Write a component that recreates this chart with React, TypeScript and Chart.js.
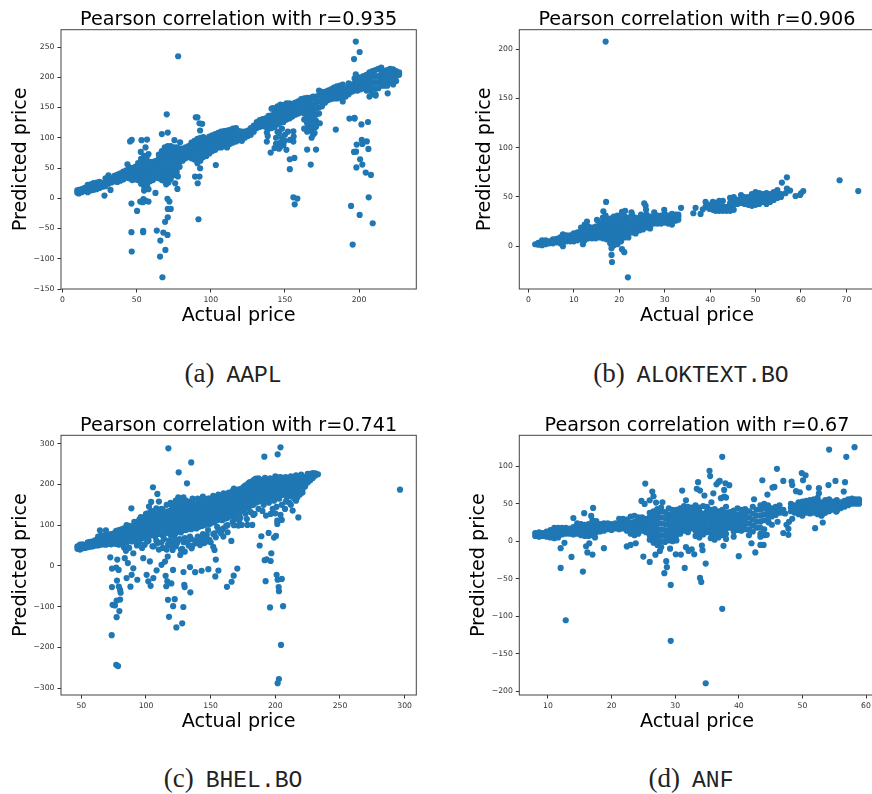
import React, { useEffect, useRef } from "react";
import { Chart, registerables } from "chart.js";

Chart.register(...registerables);

// Each band row is [actual, predicted, predicted, ...]: values.
const aaplBand = [[10,9,13],[11,8,12,14],[13,10,15],[15,12,17],[17,10,16,22],[19,13,19,23],[21,14,20,25],[23,15,21,26],[25,17,23,27],[27,19,25],[29,20,27,33],[31,24,30,38],[33,26,33],[35,28,34,37],[37,27,33,39],[39,29,35,41],[41,31,37,44],[43,34,40,46],[45,33,40,46,51],[47,30,37,44,50],[49,31,38,45,52],[51,30,37,44,51,58],[53,24,31,38,45,52,59,65],[55,20,27,34,41,48,55,62,70],[57,22,30,38,46,54,62,70],[59,28,36,44,52,60],[61,30,38,46,54,60],[63,34,41,48,55,62],[65,33,41,49,57,65,72],[67,30,38,46,54,62,70,78],[69,28,36,44,52,60,68,76,84],[71,30,38,46,54,62,70,78,86],[73,32,40,48,56,64,72,80,86],[75,38,46,54,62,70,78,84],[77,44,52,60,68,76,84],[79,52,60,68,76,82],[81,62,69,76,82],[83,66,72,78,84],[85,68,74,80,86],[87,66,72,78,84,92],[89,64,70,76,82,88,95],[91,58,66,74,82,90,98],[93,62,70,78,86,94,100],[95,68,75,82,89,96,101],[97,70,77,84,91,98],[99,74,81,88,95,102],[101,78,85,92,99,104],[103,80,87,94,101,106],[105,84,91,98,105,108],[107,84,90,96,102,110],[109,86,92,98,104,111],[111,84,91,98,105,112],[113,90,96,102,108,113],[115,92,98,104,110,115],[117,94,100,106,112,116],[119,96,101,106,111],[121,95,100,105,110],[123,100,105,110],[125,103,107,112],[127,105,110,116],[129,110,115,120],[131,116,121,126],[133,118,124,129],[135,119,125,131],[137,118,125,132],[139,115,122,129,136],[141,116,123,130,137,148],[143,118,125,132,139,146],[145,122,129,136,143,152],[147,125,132,139,146,155],[149,126,133,140,147,154],[151,130,137,144,151,157],[153,132,139,146,153,157],[155,135,142,149,156],[157,138,145,152,158],[159,140,147,154,160],[161,142,149,156,164],[163,130,140,148,156,165],[165,115,124,133,142,151,160,166],[167,112,121,130,139,148,157,166],[169,105,115,125,135,145,155,165,168],[171,118,128,138,148,158,168],[173,140,150,160,170,178],[175,152,160,168,176],[177,158,165,172,176],[179,162,168,174,178],[181,164,170,176,180],[183,165,171,177,183],[185,165,172,179,185],[187,166,173,180,186],[189,160,168,176,184,188],[191,168,174,180],[193,172,178,184,190],[195,176,182,188],[197,178,184,190,198],[199,178,185,192,200],[201,180,187,194,200],[203,182,189,196,202],[205,178,185,192,199,204],[207,168,178,186,194,202,208],[209,172,182,192,202,210],[211,172,182,192,202,212],[213,182,192,202,214],[215,186,194,202,210,216],[217,186,194,202,210],[219,186,194,202,212],[221,192,200,208,214],[223,188,196,204,213],[225,194,202,210],[227,204,208]];
const aaplOutliers = [[78,234.7],[197.8,259],[200.4,241.7],[196.6,230],[197.8,205],[70.3,138.8],[89.9,133.8],[91,133.8],[92.4,124],[94.2,123],[92.8,112],[71,108.5],[67,106],[46.7,96.4],[45.6,94],[53.3,96],[57,97],[75.5,96],[79.3,92.5],[56,84],[52.8,76.5],[58,73],[43.8,56],[103.4,55],[193.5,131.7],[196.9,133],[197,131.7],[201.6,122],[206,126],[184.3,113.5],[173.5,124],[155.7,110.7],[155.9,102],[153.5,96.4],[155.7,93.6],[153.3,64.5],[156.4,66.7],[153.3,48],[165,80.4],[171,80.4],[167.4,55.6],[140.4,75.5],[137.8,108.5],[138.4,103],[137.8,93.6],[155.7,1.6],[158.4,-0.5],[156.6,-10],[201.8,96.4],[202.2,89.8],[205.2,94],[198.4,88.7],[196.6,76.6],[198,77],[206.3,81.5],[200.7,64.5],[202.2,55.6],[198.2,51],[204.5,42.4],[208,38.6],[206.5,1.6],[194.6,-12.7],[200.4,-27.5],[209.2,-41.3],[195.7,-76.6],[219.3,173.5],[211.2,169.7],[46.5,-8.8],[52.4,-5.5],[54.6,-1.6],[56.2,-4.4],[58,-5.5],[54.2,-6.6],[50.3,-21],[46.5,-56],[54.4,-54],[54.4,-56],[46.7,-88],[63.6,-53.4],[66,-70],[68,-56.7],[70.8,-60.6],[69.4,-85.4],[65.8,-96.4],[67.4,-130.6],[69.2,-39],[71,-31.4],[70.8,-1],[72.1,-5.5],[71,-17.6],[73,-17.6],[91.7,-34.7],[62.7,8.8],[55,12.7],[58,15],[77.5,15.4],[69.9,23],[71.5,26],[76,24.8],[77.8,36],[89.4,35.8],[92.4,35.8],[91.2,24.8],[92.8,49.6],[28.3,4.4],[32.4,13.8],[146,108],[148,100],[150,105],[144,90],[147,85],[150,95],[143,83],[152,110],[148,115],[145,110],[149,88],[146,82],[151,80],[144,100],[147,92],[142,149],[165,110],[170,108],[168,100],[163,115],[170,120]];

const alokBand = [[1.5,2],[2.2,1.5,3.5],[3,1,3,6],[3.8,2,4,6],[4.6,3,5],[5.4,3,5,7],[6.2,4,6,7.5],[7,3,6,9],[7.6,0,4,8,12],[8.4,5,8,11],[9.2,5,8,11],[10,5,9,13],[10.8,6,10,14],[11.6,7,11,15,19],[12.4,6,10,14,18,22],[13.2,8,12,16,20],[14,8,12,16,19],[14.8,8,12,16,20],[15.6,9,13,17,21,24],[16.4,8,12,16,20,24,29],[17.2,7,11,15,19,23,27],[18,3,7,11,15,19,23,28],[18.8,1,5,9,13,17,21,25,30],[19.6,2,6,10,14,18,22,26,31],[20.4,5,9,13,17,21,25,29],[21.2,9,13,17,21,25,30],[22,9,13,17,21,25,29],[22.8,14,18,22,26,32],[23.6,13,17,21,25,29],[24.4,16,20,24,28],[25.2,17,21,25,29],[26,19,23,27,32],[26.8,18,22,26,30],[27.6,23,26,30],[28.4,23,27,31],[29.2,23,27,31],[30,24,28,33],[30.8,23,27,31],[31.6,22,26,30,33],[32.4,26,29,32],[33,27,30,32],[39,40,45],[39.8,38,42],[40.6,37,41,45],[41.2,36,40,44],[42,36,40,46],[42.8,36,40,46],[43.6,36,40],[44.4,36,40,44,49],[45.2,37,42,46,50],[46,43,47],[46.8,44,48,52],[47.6,43,47,50],[48.4,42,46,50],[49.2,41,45,49,53],[50,42,46,50,55],[50.8,43,47,51,54],[51.6,45,49,53],[52.4,43,47,51,54],[53.2,45,49,53],[54,47,51,55],[54.8,49,52,57],[55.6,50,53]];
const alokOutliers = [[17,207.7],[56.9,70],[55.8,64.6],[68.5,67],[72.6,56],[60.5,56],[60,53.8],[58.8,51],[59.8,52],[56.9,58.5],[57.6,56.5],[56.6,53.8],[17.1,45],[25.5,43.6],[25.8,41],[25.9,37],[24.8,32],[16.5,35.5],[17,31],[20.6,34.8],[21.3,36],[22.7,34.5],[12.9,25],[15.1,26.7],[33.6,39],[29.9,37],[27.7,34.5],[36.3,33.5],[36.8,39],[37.9,32.8],[38.4,37.5],[18.3,-2],[18.3,-8.8],[18.4,-16],[21.9,-31.5],[20.6,-3],[21.1,-6],[12,2]];

const bhelBand = [[47,42,48],[49,40,46,52],[51,43,49,53],[53,44,50],[55,46,52,58],[57,47,53,59],[59,48,54,60],[61,50,56,63],[63,50,57,64,72],[65,52,59,66,74],[67,53,60,67,75],[69,52,60,68,76],[71,54,62,70,77],[73,53,61,69,78],[75,55,63,71,80],[77,54,62,70,78,86],[79,52,61,70,79,88],[81,55,64,73,82,90],[83,45,60,69,78,87,92],[85,57,66,75,84,93,100],[87,44,62,72,82,92,98],[89,60,70,80,90,96],[91,62,72,82,92,102,108],[93,50,68,78,88,98,108],[95,66,76,86,96,106,114],[97,44,68,78,88,98,108,118],[99,70,80,90,100,110,120],[101,60,72,82,92,102,112,122],[103,74,84,94,104,114,126],[105,48,76,86,96,106,116,127],[107,72,82,92,102,112,122],[109,56,78,88,98,108,118,130],[111,78,88,98,108,118,128],[113,44,74,84,94,104,114,124,132],[115,80,90,100,110,120,130],[117,52,82,92,102,112,122,134],[119,76,86,96,106,116,126,136,155],[121,60,84,94,104,114,124,134],[123,48,80,90,100,110,120,130,140,160],[125,86,96,106,116,126,136,146,168],[127,40,82,92,102,112,122,132,142],[129,58,88,98,108,118,128,138,148,168],[131,88,98,108,118,128,138,148],[133,50,92,102,112,122,132,142,152],[135,66,90,100,110,120,130,140,150,158],[137,94,104,114,124,134,144,152],[139,56,92,102,112,122,132,142,150],[141,96,106,116,126,136,146,158],[143,66,98,108,118,128,138,148,158],[145,56,100,110,120,130,140,150,162],[147,76,104,114,124,134,144,154,162],[149,64,102,112,122,132,142,152,165],[151,106,116,126,136,146,156,166],[153,80,108,118,128,138,148,158,165],[155,96,112,122,132,142,152,162,170],[157,114,124,134,144,154,164,168],[159,90,112,122,132,142,152,162,172],[161,116,126,136,146,156,166,172],[163,100,118,128,138,148,158,168,176],[165,122,132,142,152,162,172,178],[167,108,124,134,144,154,164,174,184],[169,116,128,138,148,158,168,178,182],[171,130,140,150,160,170,180,186],[173,118,132,142,152,162,172,182,188],[175,136,146,156,166,176,186,192],[177,128,140,150,160,170,180,190,198],[179,144,154,164,174,184,194,202],[181,132,148,158,168,178,188,198,206],[183,125,150,160,170,180,190,200,210],[185,155,165,175,185,195,205,214],[187,140,158,168,178,188,198,208,215],[189,160,170,180,190,200,210],[191,150,162,172,182,192,202,208],[193,165,175,185,195,205],[195,155,168,178,188,198,206],[197,170,180,190,200,208],[199,160,172,182,192,202,212],[201,145,172,182,192,202,212,218],[203,165,175,185,195,205,216],[205,150,174,184,194,204,214],[207,175,185,195,205,215],[209,168,178,188,198,208,214],[211,155,178,188,199,210],[213,170,180,190,200,212],[215,165,176,187,198,208],[217,168,178,188,198,210],[219,175,185,195,205,220],[221,180,188,196,204,212],[223,195,203,211,218],[225,205,213,220,226],[227,210,218,226],[229,216,224,228],[231,222,227],[233,225]];
const bhelOutliers = [[117.3,288.6],[204,291],[201.8,273.9],[191.5,268],[135,254],[125.3,229.7],[131.7,202.7],[105.4,193],[108.8,176.6],[296.4,187],[88.7,141.4],[104,157],[110,157.8],[102.3,145.5],[108,141.4],[112.9,139],[101.3,129],[106.4,125],[64.4,87.5],[69,87.5],[72.4,21],[73.7,-6.5],[77,-4],[78.9,-10],[77.8,15.5],[77.6,-36],[73.7,-52],[79,-50.7],[80,-59],[80.4,-66],[80,-82.6],[77.3,-85],[74.2,-95.6],[76,-97],[79.4,-111],[77.3,-126],[73.5,-170],[77,-243],[78.4,-246],[117,-83.4],[122.2,-81.7],[121,-99],[117.8,-125],[128.9,-101],[123.5,-151],[128,-141],[134.3,-65],[129.6,-46.6],[129.9,-52],[115.7,-50],[116.5,-38],[119.6,-43],[115.2,-24.5],[120.9,-10],[129,-15],[134,-3],[138,-15.5],[143,-12],[148.2,-8],[153.6,-26],[154,15.5],[156,-11.4],[162.6,-51.5],[166.2,-39],[167.8,-24],[170.6,-6.5],[192.5,-37.6],[201,-22],[201.8,-34],[205,-32],[202.6,-52],[202.8,-62],[195.9,-102],[206,-99],[204.4,-194],[202.8,-278],[201.8,-288],[196.4,12],[191.8,14],[193.3,16],[196.9,31],[187.9,50],[189.2,72.8],[194.8,81],[199,69.5],[200.5,73.6],[166,61.3],[159.8,72],[163.1,82.6],[217.8,119],[213.4,135.7],[207.5,139.8],[205,112.8],[201.5,103],[201.5,111],[192.8,123.4],[196.4,127.5],[200,129],[204,125],[171.4,99],[174,100.5],[178.4,100.5],[182.2,100.5],[85,-30],[88.9,-22],[93.3,-34],[88,-51],[90.2,-6],[86,7],[83.6,19],[90.2,31],[84.5,37],[100.5,-22],[101.8,-38],[103.6,-49],[105.7,-30],[97.9,19],[103,11],[108.2,-11],[112,2.5],[114.7,10.6],[116.8,23],[120.6,39],[126.5,27],[130,35],[135.3,43],[141.8,51],[147,60],[152,47],[153,39]];
const bhelBelowBand = [[95,58],[99,52],[102,62],[106,48],[108,62],[110,40],[112,58],[114,66],[116,40],[118,62],[120,48],[122,68],[124,56],[126,66],[128,42],[130,68],[132,58],[134,72],[136,50],[138,62],[140,72],[142,60],[144,78],[146,68],[148,88],[150,58],[152,78],[154,70],[156,88],[158,80],[160,92],[162,98],[168,100],[172,112],[178,115],[184,128],[190,135],[198,140],[208,158],[212,150],[216,160]];
const bhelAboveBand = [[96,120],[100,128],[104,135],[108,134],[112,140],[116,150],[120,148],[124,152],[127,158],[129,155],[131,160],[136,165],[140,165],[144,170],[148,165],[152,172],[156,175],[160,178],[164,180],[168,190],[172,188],[176,195],[180,205],[184,212],[188,212],[192,216],[196,215],[200,220],[204,218],[208,218],[212,220],[216,222],[220,224]];

const anfBand = [[8,7,11],[8.6,6,10,12],[9.2,7,11],[9.8,6,10,13],[10.4,5,10,15],[11,4,9,14,18],[11.6,5,10,15,18],[12.2,9,13,18],[12.8,10,14,18],[13.4,10,14,17],[14,9,14,19],[14.6,10,15,20,24],[15.2,8,13,18,23],[15.8,7,12,17,22],[16.4,7,12,17,23],[17,8,13,18,24,28],[17.6,12,17,22,27],[18.2,13,18,23],[18.8,14,19,24],[19.4,16,20,24],[20,15,19,23],[20.6,17,20,24],[21.2,16,20,24,30],[21.8,17,21,25,30],[22.4,14,19,24,29],[23,10,15,20,25,33],[23.6,8,14,20,26,34],[24.2,10,16,22,28,32],[24.8,14,20,26,32],[25.4,12,18,24,30],[26,2,8,14,20,26,32,38],[26.6,-2,5,12,19,26,33,40],[27.2,-5,2,9,16,23,30,37,43],[27.8,-8,0,8,16,24,32,40,45],[28.4,-1,7,15,23,31,39],[29,1,8,15,22,29,36,44],[29.6,0,7,14,21,28,35,42],[30.2,1,8,15,22,29,36,42],[30.8,10,17,24,31,38,44],[31.4,14,21,28,35,42,47],[32,12,19,26,33,40,46],[32.6,17,24,31,38,45],[33.2,7,14,21,28,35,42,48],[33.8,5,12,19,26,33,40,45],[34.4,9,16,23,30,37,47],[35,12,19,26,33,40,46],[35.6,4,11,18,25,32,39,42],[36.2,2,9,16,23,30,37,43],[36.8,5,12,19,26,33,40],[37.4,8,15,22,29,36,42],[38,3,10,17,24,31,38,46],[38.6,18,25,32,39],[39.2,6,13,20,27,34,41],[39.8,15,22,29,36,44],[40.4,14,21,28,35,42],[41,16,23,30,37,43],[41.6,8,16,24,32,40],[42.2,13,21,29,37,46],[42.8,18,26,34,42],[43.4,10,18,26,34,42,48],[44,8,16,28,36,44,50],[44.6,27,34,41,48],[45.2,33,38,44],[45.8,35,40,46],[46.4,38,42,48],[47,38,42],[48.2,40,45,50],[48.8,38,44,48],[49.4,36,42,47,52],[50,34,41,47,53],[50.6,38,44,50,54],[51.2,37,43,49,55],[51.8,38,44,50,56],[52.4,36,42,48,54,58],[53,34,40,46,52],[53.6,38,44,50,55],[54.2,40,46,52,56],[54.8,42,47,53],[55.4,40,45,50,55],[56,44,48,52],[56.6,46,50,54],[57.2,48,52,56],[57.8,50,54,57],[58.4,50,53,56],[58.9,50,54,56]];
const anfOutliers = [[58.2,125.5],[54.2,122.4],[56.9,112.6],[37.4,112.6],[46,96.6],[35.4,94],[35.5,87],[49.9,91],[50.5,88],[50.1,81.4],[43.7,81.4],[47,80.5],[48.3,79.7],[48.4,75],[55.2,80.5],[56.7,78.8],[54.1,75],[51,71.6],[45.3,71.6],[45.6,72.5],[49,66.8],[49.6,65.4],[52.6,70.8],[52.6,64],[56.5,66.3],[44.5,62.3],[33.6,78.8],[33.4,70],[33.9,67.6],[34.6,61],[36.8,78.8],[37,80.5],[36.5,76],[37.9,77.4],[38.5,74.8],[36,64],[37.7,68.5],[38,58.3],[37.2,57.4],[37.7,59.6],[35.7,52],[31.1,67.6],[25.3,77],[26.4,66.3],[26.6,60],[24.7,53.8],[25.2,49.8],[26,54.7],[27,51.6],[28,52],[31.7,54.7],[42.4,56],[17.1,44.5],[15.7,37.4],[16.8,33.8],[14,31],[12,-9.3],[12.6,-2.2],[12,-35.6],[13.7,-21],[15.5,-40.5],[12.8,-105.5],[16.2,-15],[17,-17.8],[16,-6.7],[16.5,-2.7],[17.4,5],[18.8,-9.3],[22.4,-7],[23,-5],[23.8,-2.7],[25,-20.5],[26,-27.6],[26.9,-18],[27.6,-13],[28.6,-26.7],[28.7,-34.7],[28.3,-42.7],[29.3,-58.3],[29.3,-133],[34.8,-189.6],[37.4,-90.3],[31.5,-35.6],[30.1,-17.4],[30.9,-17.8],[29.2,-10],[31.7,-8],[32.1,-13],[32.6,-10.7],[33,-17.4],[34.8,-29.8],[33.9,-49],[34.1,-54.3],[34.3,-12],[34.2,-5.8],[37.6,-6.2],[40,-20],[42.6,-15],[42,-2.7],[46.1,26],[47.3,37],[47,11],[47.9,26],[47.5,22],[47.8,16.5],[47.8,8.5],[48.4,30],[52,17.4],[53.2,25],[53.2,36.5],[55.3,39.6],[43.4,6],[43.9,-5],[43.4,-5],[44.4,8.5],[45.2,22],[44.7,25]];

const titles = ["Pearson correlation with r=0.935", "Pearson correlation with r=0.906", "Pearson correlation with r=0.741", "Pearson correlation with r=0.67"];
const captionLetters = ["(a)", "(b)", "(c)", "(d)"];
const captionNames = ["AAPL", "ALOKTEXT.BO", "BHEL.BO", "ANF"];
const xLabel = "Actual price";
const yLabel = "Predicted price";

const BLUE = "#1f77b4";
const INK = "#333333";
const SANS = "'DejaVu Sans', sans-serif";

type Layout = {
  points: number[][][];
  left: number; top: number; width: number; height: number;
  plotLeft: number; plotRight: number; plotTop: number; plotBottom: number;
  xMin: number; xMax: number; xStep: number;
  yMin: number; yMax: number; yStep: number;
  yTitleX: number; captionX: number; captionY: number; titlePad: number;
};

const expand = (band: number[][]) => band.flatMap(([x, ...ys]) => ys.map((y) => [x, y]));

const layouts: Layout[] = [
  { points: [expand(aaplBand), aaplOutliers], left: 0, top: 0, width: 477, height: 334, plotLeft: 61, plotRight: 416.3, plotTop: 29.7, plotBottom: 289, xMin: -1, xMax: 238.6, xStep: 50, yMin: -150, yMax: 278.6, yStep: 50, yTitleX: 21, captionX: 233, captionY: 373, titlePad: 8.7 },
  { points: [expand(alokBand), alokOutliers], left: 440, top: 0, width: 514, height: 334, plotLeft: 519.3, plotRight: 874.6, plotTop: 29.7, plotBottom: 289, xMin: -2, xMax: 76.2, xStep: 10, yMin: -43.4, yMax: 219.8, yStep: 50, yTitleX: 485, captionX: 691, captionY: 373, titlePad: 8.7 },
  { points: [expand(bhelBand), bhelOutliers, bhelBelowBand, bhelAboveBand], left: 0, top: 405, width: 477, height: 335, plotLeft: 61, plotRight: 416.3, plotTop: 435.3, plotBottom: 695, xMin: 34.3, xMax: 309, xStep: 50, yMin: -317, yMax: 320.6, yStep: 100, yTitleX: 21, captionX: 233, captionY: 778, titlePad: 9.5 },
  { points: [expand(anfBand), anfOutliers], left: 440, top: 405, width: 514, height: 335, plotLeft: 519.3, plotRight: 874.6, plotTop: 435.3, plotBottom: 695, xMin: 5.5, xMax: 61.35, xStep: 10, yMin: -205.3, yMax: 141.4, yStep: 50, yTitleX: 479, captionX: 691, captionY: 778, titlePad: 9.5 },
];

const framePlugin = {
  id: "frame",
  afterLayout(chart: any) {
    const a = chart.chartArea;
    if (chart.titleBlock) {
      chart.titleBlock.left = a.left;
      chart.titleBlock.right = a.right;
    }
  },
  afterDatasetsDraw(chart: any) {
    const { ctx, chartArea: a } = chart;
    ctx.save();
    ctx.strokeStyle = "#444444";
    ctx.lineWidth = 1;
    ctx.strokeRect(a.left, a.top, a.right - a.left, a.bottom - a.top);
    ctx.restore();
  },
};

const minus = (v: any) => String(v).replace("-", "\u2212");

function Panel({ layout, title }: { layout: Layout; title: string }) {
  const ref = useRef<HTMLCanvasElement>(null);
  useEffect(() => {
    const l = layout;
    const titleSize = 19.2;
    const lh = titleSize * 1.2;
    const tick = { font: { family: SANS, size: 7.7 }, color: INK, padding: 3, maxRotation: 0, autoSkip: false, includeBounds: false };
    const chart = new Chart(ref.current as HTMLCanvasElement, {
      type: "scatter",
      data: {
        datasets: [{
          data: l.points.flat().map(([x, y]) => ({ x, y })),
          backgroundColor: BLUE,
          borderWidth: 0,
          pointRadius: 3.1,
        }],
      },
      options: {
        animation: false,
        responsive: false,
        devicePixelRatio: 1,
        layout: { padding: { left: 0, top: 0, bottom: 0, right: l.left + l.width - l.plotRight } },
        plugins: {
          legend: { display: false },
          tooltip: { enabled: false },
          title: {
            display: true,
            text: title,
            color: "#000",
            font: { family: SANS, size: titleSize, weight: "normal", lineHeight: 1.2 },
            padding: { top: l.titlePad, bottom: l.plotTop - l.top - lh - l.titlePad },
          },
        },
        scales: {
          x: {
            type: "linear",
            min: l.xMin,
            max: l.xMax,
            afterFit: (s: any) => { s.height = l.top + l.height - l.plotBottom; },
            grid: { drawOnChartArea: false, drawTicks: true, tickLength: 3.5, color: INK },
            border: { display: false },
            ticks: { ...tick, stepSize: l.xStep },
            title: {
              display: true, text: xLabel, color: "#000",
              font: { family: SANS, size: titleSize, lineHeight: 1.2 },
              padding: { top: 0, bottom: l.top + l.height - (l.plotBottom + 27.5) - lh / 2 },
            },
          },
          y: {
            type: "linear",
            min: l.yMin,
            max: l.yMax,
            afterFit: (s: any) => { s.width = l.plotLeft - l.left; },
            grid: { drawOnChartArea: false, drawTicks: true, tickLength: 3.5, color: INK },
            border: { display: false },
            ticks: { ...tick, stepSize: l.yStep, callback: minus },
            title: {
              display: true, text: yLabel, color: "#000",
              font: { family: SANS, size: titleSize, lineHeight: 1.2 },
              padding: { top: l.yTitleX - l.left - lh / 2, bottom: 0 },
            },
          },
        },
      },
      plugins: [framePlugin],
    } as any);
    return () => chart.destroy();
  }, [layout, title]);
  return (
    <canvas
      ref={ref}
      width={layout.width}
      height={layout.height}
      style={{ position: "absolute", left: layout.left, top: layout.top, width: layout.width, height: layout.height, filter: "blur(0.35px)" }}
    />
  );
}

export default function App() {
  return (
    <div style={{ position: "absolute", left: 0, top: 0, width: 872, height: 794, overflow: "hidden", background: "#fff" }}>
      {layouts.map((l, i) => (
        <Panel key={i} layout={l} title={titles[i]} />
      ))}
      {layouts.map((l, i) => (
        <div
          key={"c" + i}
          style={{ position: "absolute", left: l.captionX - 200, width: 400, top: l.captionY - 20, height: 40, lineHeight: "40px", textAlign: "center", whiteSpace: "pre", color: "#222" }}
        >
          <span style={{ fontFamily: "'Liberation Serif', serif", fontSize: 27 }}>{captionLetters[i]}</span>
          <span style={{ fontFamily: "'Liberation Mono', monospace", fontSize: 23, marginLeft: 12 }}>{captionNames[i]}</span>
        </div>
      ))}
    </div>
  );
}
